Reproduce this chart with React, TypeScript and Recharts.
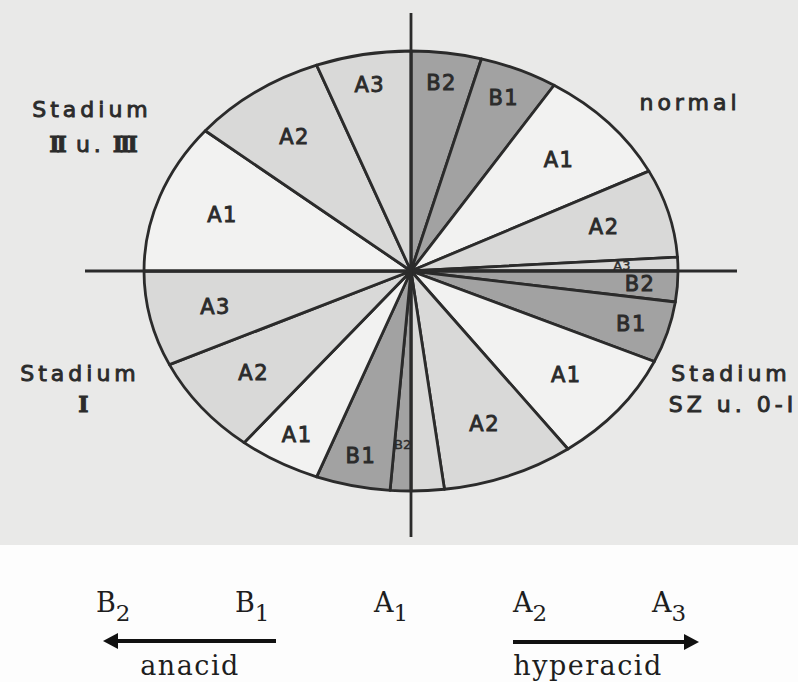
import React from 'react';
import { PieChart, Pie } from 'recharts';

const W = 798;
const H = 682;
const CX = 411;
const CY = 271;
const RX = 267;
const SQUASH = 220 / 267; // the pie is drawn as an ellipse
const RAD = Math.PI / 180;

const INK = '#2b2b2b';
const FILLS: Record<string, string> = {
  B: '#a2a2a2',
  A1: '#f2f2f1',
  A23: '#d9d9d8',
};

// four groups, clockwise from 12 o'clock, share of each quarter in %
const normalKeys = ['B2', 'B1', 'A1', 'A2', 'A3'];
const normalValues = [17, 19, 34, 26, 4];
const szKeys = ['B2', 'B1', 'A1', 'A2', 'A3'];
const szValues = [9, 18, 33, 32, 8];
const szShown = [true, true, true, true, false];
const stadium1Keys = ['B2', 'B1', 'A1', 'A2', 'A3'];
const stadium1Values = [5, 18, 20, 29, 28];
const stadium23Keys = ['A1', 'A2', 'A3'];
const stadium23Values = [44, 33, 23];

// legend under the pie
const scaleKeys = ['B2', 'B1', 'A1', 'A2', 'A3'];

const slices = [
  ...normalKeys.map((k, i) => ({ key: k, value: normalValues[i], shown: true })),
  ...szKeys.map((k, i) => ({ key: k, value: szValues[i], shown: szShown[i] })),
  ...stadium1Keys.map((k, i) => ({ key: k, value: stadium1Values[i], shown: true })),
  ...stadium23Keys.map((k, i) => ({ key: k, value: stadium23Values[i], shown: true })),
];

function fillFor(key: string) {
  if (key[0] === 'B') return FILLS.B;
  if (key === 'A1') return FILLS.A1;
  return FILLS.A23;
}

function ellipsePoint(cx: number, cy: number, r: number, a: number, f = 1) {
  return [cx + r * f * Math.cos(a * RAD), cy - r * SQUASH * f * Math.sin(a * RAD)];
}

const Wedge = (p: any) => {
  const { cx, cy, outerRadius, startAngle, endAngle } = p;
  const [x0, y0] = ellipsePoint(cx, cy, outerRadius, startAngle);
  const [x1, y1] = ellipsePoint(cx, cy, outerRadius, endAngle);
  const large = Math.abs(startAngle - endAngle) > 180 ? 1 : 0;
  const sweep = startAngle > endAngle ? 1 : 0;
  const d = `M${cx},${cy} L${x0},${y0} A${outerRadius},${outerRadius * SQUASH} 0 ${large} ${sweep} ${x1},${y1} Z`;
  return <path d={d} fill={fillFor(p.key)} stroke={INK} strokeWidth={2.8} strokeLinejoin="round" />;
};

const SliceLabel = (p: any) => {
  if (!p.shown) return <g />;
  const { cx, cy, outerRadius, startAngle, endAngle, midAngle } = p;
  const span = Math.abs(startAngle - endAngle);
  const tiny = span < 8;
  const f = tiny ? 0.79 : span < 21 ? 0.86 : 0.75;
  const [x, y] = ellipsePoint(cx, cy, outerRadius, midAngle, f);
  return (
    <text x={x} y={y} textAnchor="middle" dominantBaseline="central"
      fontFamily="DejaVu Sans" fontSize={tiny ? 13 : 21} letterSpacing={tiny ? 0 : 1.5}
      fill={INK} stroke={INK} strokeWidth={tiny ? 0.4 : 0.9}>
      {p.key}
    </text>
  );
};

const sans = { fontFamily: 'DejaVu Sans', fontSize: 22, letterSpacing: 4, fill: INK, stroke: INK, strokeWidth: 0.9 };
const roman = { fontFamily: 'DejaVu Serif', fontWeight: 'bold' as const, letterSpacing: -3 };
const serif = { fontFamily: 'DejaVu Serif', fill: '#1e1e1e' };

export default function App() {
  return (
    <div style={{ position: 'absolute', left: 0, top: 0, width: W, height: H, background: '#fdfdfd', overflow: 'hidden' }}>
      <div style={{ position: 'absolute', left: 0, top: 0, width: W, height: 545, background: '#e9e9e8' }} />
      <div style={{ position: 'absolute', left: 0, top: 0 }}>
        <PieChart width={W} height={H} margin={{ top: 0, right: 0, bottom: 0, left: 0 }}>
          <Pie data={slices} dataKey="value" nameKey="key" cx={CX} cy={CY} outerRadius={RX}
            startAngle={90} endAngle={-270} fill="none" stroke="none"
            label={Wedge} labelLine={false} isAnimationActive={false} />
          <Pie data={slices} dataKey="value" nameKey="key" cx={CX} cy={CY} outerRadius={RX}
            startAngle={90} endAngle={-270} fill="none" stroke="none"
            label={SliceLabel} labelLine={false} isAnimationActive={false} />
        </PieChart>
      </div>
      <svg width={W} height={H} style={{ position: 'absolute', left: 0, top: 0, pointerEvents: 'none' }}>
        {/* axes */}
        <line x1={85} y1={CY} x2={737} y2={CY} stroke={INK} strokeWidth={2.8} />
        <line x1={CX} y1={13} x2={CX} y2={537} stroke={INK} strokeWidth={2.8} />

        {/* group names */}
        <text {...sans} x={92} y={117} textAnchor="middle">Stadium</text>
        <text {...sans} x={92} y={152} textAnchor="middle">
          <tspan {...roman}>II</tspan>
          <tspan dx={12}>u.</tspan>
          <tspan {...roman} dx={8}>III</tspan>
        </text>
        <text {...sans} x={690} y={110} textAnchor="middle">normal</text>
        <text {...sans} x={80} y={381} textAnchor="middle">Stadium</text>
        <text {...sans} x={82} y={412} textAnchor="middle"><tspan {...roman}>I</tspan></text>
        <text {...sans} x={731} y={381} textAnchor="middle">Stadium</text>
        <text {...sans} x={733} y={412} textAnchor="middle">SZ u. 0-I</text>

        {/* acidity scale */}
        {scaleKeys.map((k, i) => (
          <text key={k} {...serif} x={96 + i * 139} y={612} fontSize={27}>
            {k[0]}
            <tspan dy={9} fontSize={23}>{k[1]}</tspan>
          </text>
        ))}
        <line x1={112} y1={641} x2={276} y2={641} stroke="#111" strokeWidth={4} />
        <polygon points="103,641 118,633 118,649" fill="#111" />
        <line x1={513} y1={642} x2={688} y2={642} stroke="#111" strokeWidth={4} />
        <polygon points="699,642 684,634 684,650" fill="#111" />
        <text {...serif} x={190} y={675} fontSize={27} letterSpacing={1.5} textAnchor="middle">anacid</text>
        <text {...serif} x={588} y={675} fontSize={27} letterSpacing={1.5} textAnchor="middle">hyperacid</text>
      </svg>
    </div>
  );
}
